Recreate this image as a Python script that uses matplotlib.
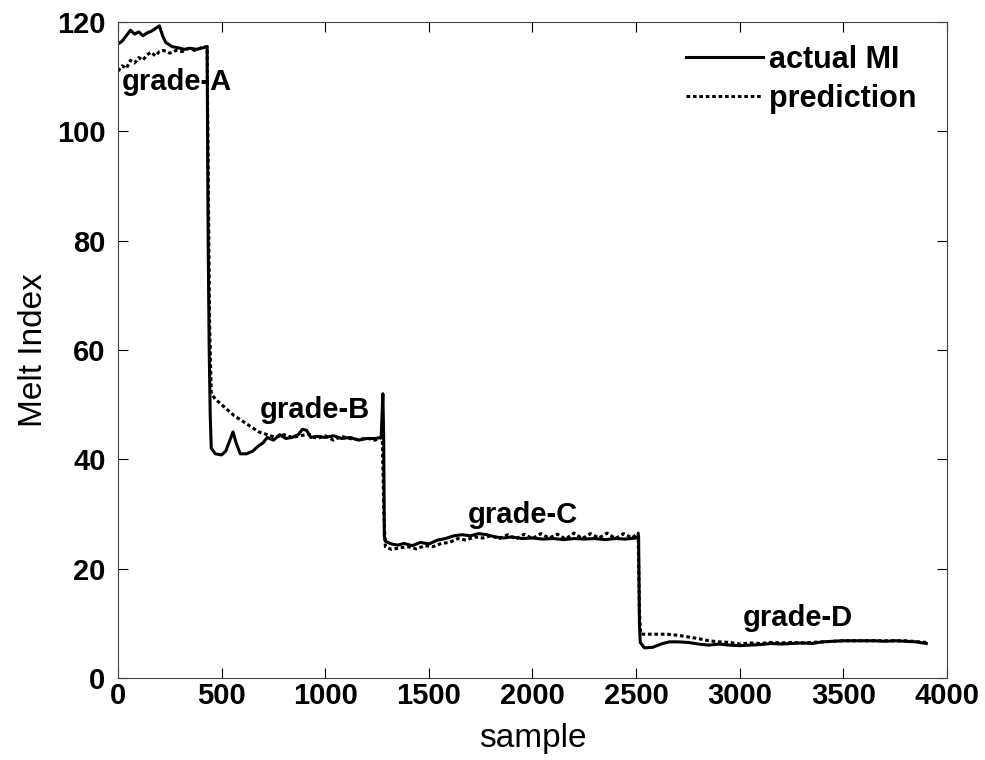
#!/usr/bin/env python3
"""
Melt index per sample for four product grades: the measured MI and the model prediction.
"""

import matplotlib
matplotlib.use('Agg')
import matplotlib.pyplot as plt

# measured melt index (solid line)
actual_x = [0, 20, 40, 60, 80, 100, 120, 140, 160, 180, 200, 215, 230, 260, 290, 320, 350, 380, 410, 430,
            435, 440, 445, 450, 470, 500, 520, 540, 555, 570, 590, 620, 650, 680, 700, 720, 750, 780, 810,
            840, 870, 890, 910, 930, 960, 1000, 1040, 1080, 1120, 1160, 1200, 1240, 1270, 1278, 1282, 1285,
            1290, 1320, 1350, 1380, 1420, 1460, 1500, 1540, 1580, 1620, 1660, 1700, 1740, 1780, 1820, 1860,
            1900, 1950, 2000, 2050, 2100, 2150, 2200, 2250, 2300, 2350, 2400, 2450, 2500, 2512, 2516, 2520,
            2540, 2580, 2620, 2660, 2700, 2750, 2800, 2850, 2900, 2950, 3000, 3050, 3100, 3150, 3200, 3250,
            3300, 3350, 3400, 3450, 3500, 3550, 3600, 3650, 3700, 3750, 3800, 3850, 3900]
actual_y = [116, 116.5, 117.5, 118.5, 117.8, 118.2, 117.5, 118, 118.3, 118.8, 119.3, 117.5, 116.3, 115.5,
            115.3, 115, 115.2, 115, 115.3, 115.5,
            80, 60, 48, 42, 41, 40.8, 41.5, 43.5, 45, 43, 41, 41, 41.5, 42.5, 43, 44, 43.5, 44.5, 43.8,
            44, 44.5, 45.5, 45.3, 44, 44.2, 44, 44.3, 43.8, 44, 43.5, 43.8, 43.8, 44, 52, 44, 26,
            25, 24.5, 24.3, 24.6, 24.2, 24.8, 24.5, 25.2, 25.5, 26, 26.2, 26, 26.4, 26.2, 25.8, 25.6,
            25.8, 25.5, 25.6, 25.4, 25.5, 25.3, 25.5, 25.4, 25.5, 25.3, 25.5, 25.4, 25.6, 26, 10, 6.5,
            5.5, 5.6, 6.2, 6.6, 6.6, 6.5, 6.2, 6.0, 6.2, 6.0, 5.9, 6.0, 6.1, 6.3, 6.2, 6.3,
            6.4, 6.3, 6.6, 6.7, 6.8, 6.8, 6.8, 6.8, 6.7, 6.8, 6.7, 6.6, 6.3]

# model prediction (dotted line)
pred_x = [0, 20, 40, 60, 80, 100, 120, 140, 160, 180, 200, 220, 250, 280, 310, 340, 370, 400, 430,
          436, 442, 450, 470, 500, 530, 560, 600, 640, 680, 720, 760, 800, 840, 880, 920, 960, 1000,
          1040, 1080, 1120, 1160, 1200, 1240, 1275, 1283, 1290, 1320, 1360, 1400, 1440, 1480, 1520,
          1560, 1600, 1640, 1680, 1720, 1760, 1800, 1840, 1880, 1920, 1960, 2000, 2040, 2080, 2120,
          2160, 2200, 2240, 2280, 2320, 2360, 2400, 2440, 2480, 2510, 2516, 2522, 2560, 2600, 2650,
          2700, 2750, 2800, 2850, 2900, 2950, 3000, 3050, 3100, 3150, 3200, 3250, 3300, 3350, 3400,
          3450, 3500, 3600, 3700, 3800, 3900]
pred_y = [111, 112, 111.5, 113, 112.5, 113.5, 113, 114, 114.5, 113.8, 114.6, 114.8, 114.3, 114.8, 114.6,
          115.2, 114.8, 115.3, 115.5,
          90, 65, 52, 51, 50, 49, 48, 47, 46, 45, 44.5, 44, 44.5, 44, 44.3, 44.6, 43.8, 44.3,
          43.5, 44.2, 43.8, 43.6, 43.9, 43.5, 44, 30, 24, 23.5, 23.8, 24, 23.6, 24.2, 24,
          24.6, 24.8, 25.5, 25.2, 25.8, 25.6, 26, 25.5, 26.2, 25.4, 26.3, 25.5, 26.4, 25.6, 26.3,
          25.4, 26.5, 25.5, 26.4, 25.6, 26.5, 25.5, 26.4, 25.6, 26.5, 12, 8, 8, 8, 8,
          7.8, 7.5, 7.2, 6.8, 6.6, 6.5, 6.2, 6.4, 6.3, 6.5, 6.4, 6.5, 6.4, 6.5, 6.6,
          6.7, 6.8, 6.8, 6.8, 6.8, 6.5]

grade_names = ['grade-A', 'grade-B', 'grade-C', 'grade-D']
grade_label_x = [285, 952, 1952, 3280]
grade_label_y = [109, 49.0, 29.8, 11.0]

plt.rcParams['font.family'] = ['Liberation Sans', 'DejaVu Sans']

fig = plt.figure(figsize=(9.85, 7.6), dpi=100)
ax = fig.add_axes([0.1198, 0.108, 0.8416, 0.863])

ax.plot(actual_x, actual_y, color='black', lw=2.2, label='actual MI')
ax.plot(pred_x, pred_y, color='black', lw=2.2, linestyle=(0, (1.2, 0.9)), label='prediction')

for name, gx, gy in zip(grade_names, grade_label_x, grade_label_y):
    ax.text(gx, gy, name, ha='center', va='center', fontsize=21, fontweight='bold')

ax.set_xlim(0, 4000)
ax.set_ylim(0, 120)
ax.set_xticks(range(0, 4001, 500))
ax.set_yticks(range(0, 121, 20))
ax.tick_params(direction='in', top=True, right=True, length=7, width=0.8, labelsize=21)
ax.tick_params(axis='x', pad=3)
ax.tick_params(axis='y', pad=9)
for lbl in ax.get_xticklabels() + ax.get_yticklabels():
    lbl.set_fontweight('bold')
for sp in ax.spines.values():
    sp.set_linewidth(0.8)
    sp.set_color('#444444')

ax.set_xlabel('sample', fontsize=24, labelpad=9)
ax.set_ylabel('Melt Index', fontsize=24, labelpad=6)

leg = ax.legend(loc='upper right', bbox_to_anchor=(0.963, 0.965), frameon=False, fontsize=22,
                handlelength=2.5, handletextpad=0.2, borderpad=0, borderaxespad=0,
                labelspacing=0.3)
for t in leg.get_texts():
    t.set_fontweight('bold')

plt.savefig('out.png', dpi=100)
plt.close()
